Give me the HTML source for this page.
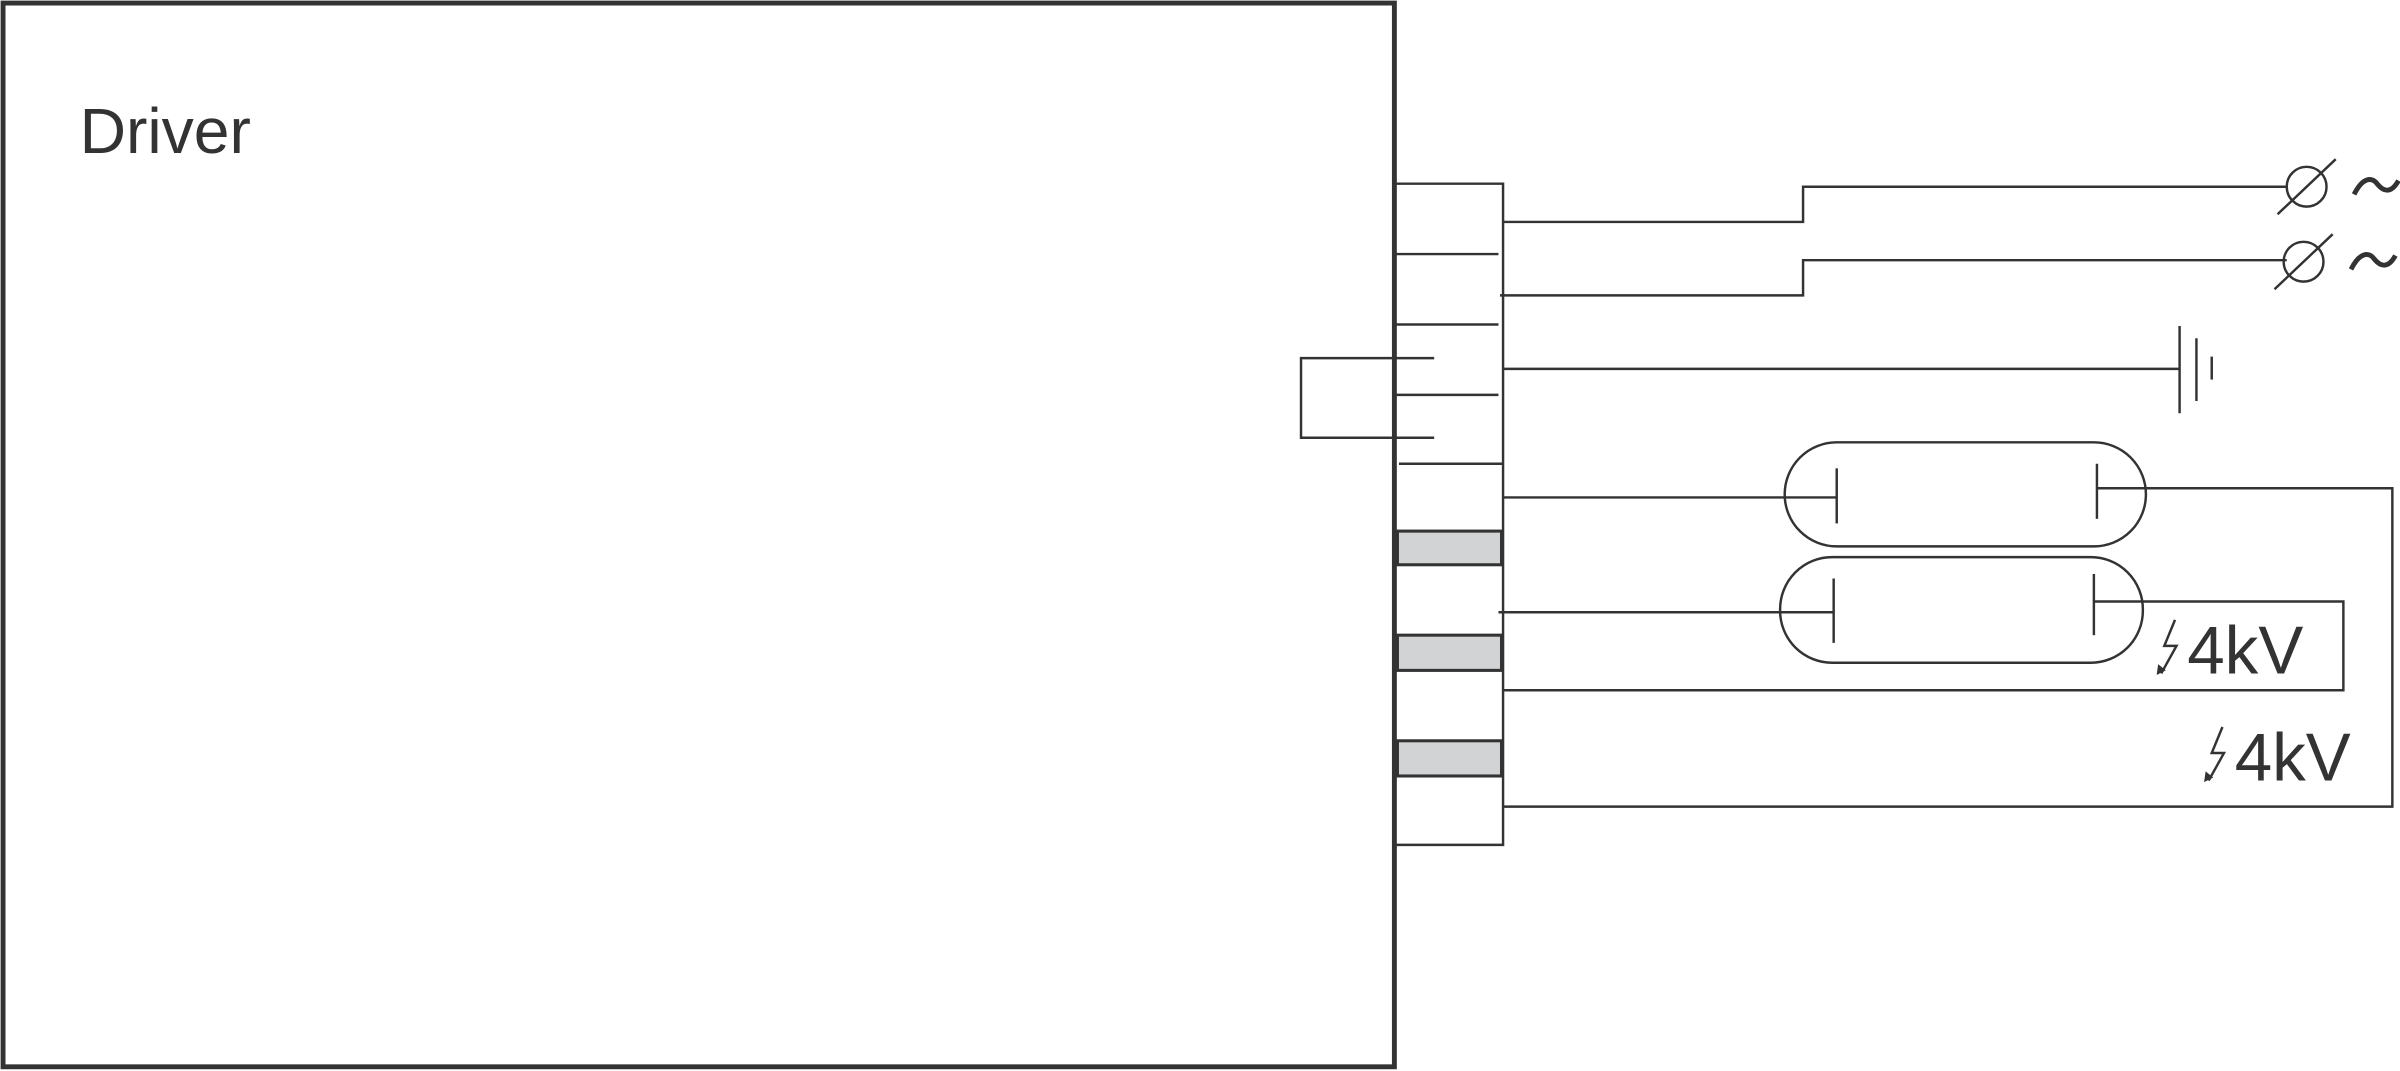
<!DOCTYPE html>
<html><head><style>html,body{margin:0;padding:0;background:#fff}svg{display:block}</style></head>
<body>
<svg width="2400" height="1071" viewBox="0 0 1568 699.75" preserveAspectRatio="none" xmlns="http://www.w3.org/2000/svg">
<g fill="none" stroke="#333" stroke-width="1.6">
<rect x="2" y="2" width="909" height="695" stroke-width="3.2"/>
<polyline points="911,120 982,120 982,552 911,552"/>
<line x1="911" y1="166" x2="979" y2="166"/>
<line x1="911" y1="212" x2="979" y2="212"/>
<line x1="911" y1="258" x2="979" y2="258"/>
<line x1="914" y1="303" x2="982" y2="303"/>
<polyline points="937,234 850,234 850,286 937,286"/>
<rect x="913" y="347" width="68" height="22" fill="#d2d3d5" stroke-width="2"/>
<rect x="913" y="415" width="68" height="23" fill="#d2d3d5" stroke-width="2"/>
<rect x="913" y="484" width="68" height="23" fill="#d2d3d5" stroke-width="2"/>
<polyline points="982,145 1178,145 1178,122 1494,122"/>
<polyline points="980,193 1178,193 1178,170 1494,170"/>
<circle cx="1507" cy="122" r="13"/>
<line x1="1488" y1="140" x2="1526" y2="104"/>
<circle cx="1505" cy="171" r="13"/>
<line x1="1486" y1="189" x2="1524" y2="153"/>
<line x1="982" y1="241" x2="1424" y2="241"/>
<line x1="1424" y1="213" x2="1424" y2="270"/>
<line x1="1435" y1="221" x2="1435" y2="262"/>
<line x1="1445" y1="233" x2="1445" y2="248"/>
<rect x="1166" y="289" width="236" height="68" rx="34"/>
<line x1="1200" y1="306" x2="1200" y2="342"/>
<line x1="1370" y1="303" x2="1370" y2="339"/>
<line x1="982" y1="325" x2="1200" y2="325"/>
<polyline points="1370,319 1563,319 1563,527 982,527"/>
<rect x="1163" y="364" width="237" height="69" rx="34"/>
<line x1="1198" y1="378" x2="1198" y2="420"/>
<line x1="1368" y1="375" x2="1368" y2="415"/>
<line x1="979" y1="400" x2="1198" y2="400"/>
<polyline points="1368,393 1531,393 1531,451 982,451"/>
<polyline points="1421,405 1414,422 1422,422 1412,440"/>
<polyline points="1452,475 1445,492 1453,492 1443,510"/>
<path d="M1538,127 C1544,115 1550,116 1553,120 C1557,125 1562,127 1567,118" stroke-width="3.2"/>
<path d="M1536,176 C1542,164 1548,165 1551,169 C1555,174 1560,176 1565,167" stroke-width="3.2"/>
</g>
<path d="M1409,441 l1,-7 l5,4 z M1440,511 l1,-7 l5,4 z" fill="#333"/>
<g font-family="Liberation Sans, sans-serif" fill="#333">
<text x="52" y="100" font-size="42">Driver</text>
<text x="1429" y="440" font-size="44">4kV</text>
<text x="1460" y="510" font-size="44">4kV</text>
</g>
</svg>
</body></html>
